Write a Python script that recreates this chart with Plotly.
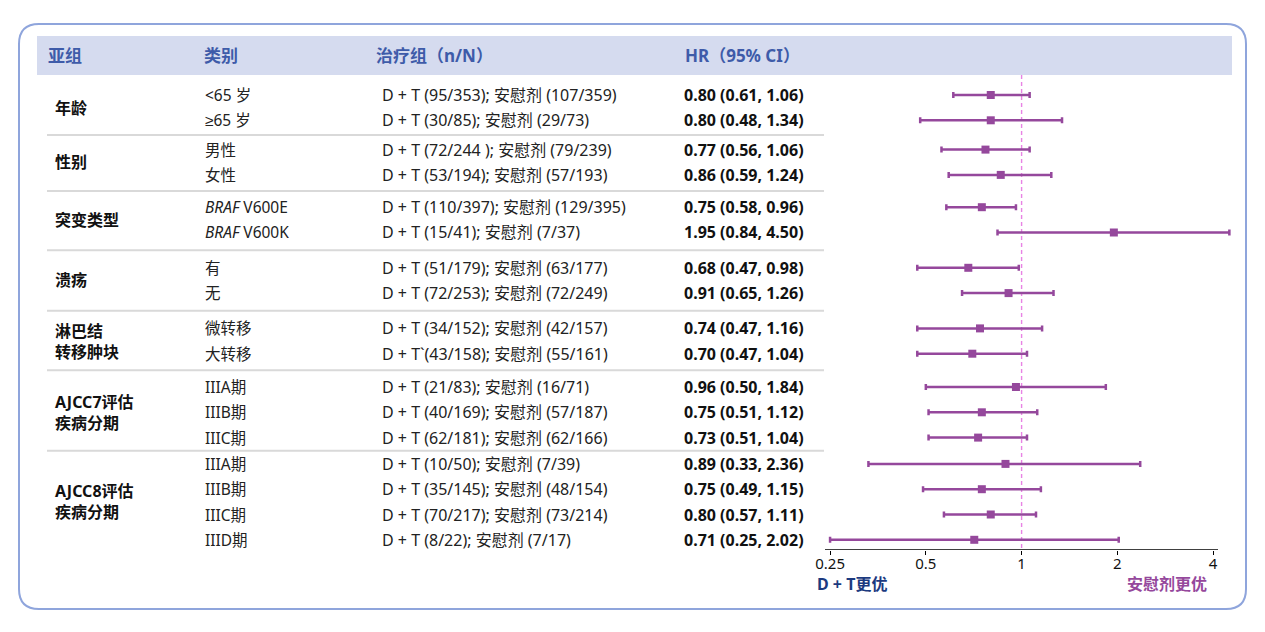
import plotly.graph_objects as go

W, H = 1265, 632

# ---------------- data ----------------
headers = ["亚组", "类别", "治疗组（n/N）", "HR（95% CI）"]
groups = ["年龄", "性别", "突变类型", "溃疡", "淋巴结<br>转移肿块",
          "AJCC7评估<br>疾病分期", "AJCC8评估<br>疾病分期"]
group_sizes = [2, 2, 2, 2, 2, 3, 4]
categories = ["&lt;65 岁", "≥65 岁", "男性", "女性",
              "<i>BRAF</i> V600E", "<i>BRAF</i> V600K", "有", "无",
              "微转移", "大转移", "IIIA期", "IIIB期", "IIIC期",
              "IIIA期", "IIIB期", "IIIC期", "IIID期"]
treatment = [
    "D + T (95/353); 安慰剂 (107/359)",
    "D + T (30/85); 安慰剂 (29/73)",
    "D + T (72/244 ); 安慰剂 (79/239)",
    "D + T (53/194); 安慰剂 (57/193)",
    "D + T (110/397); 安慰剂 (129/395)",
    "D + T (15/41); 安慰剂 (7/37)",
    "D + T (51/179); 安慰剂 (63/177)",
    "D + T (72/253); 安慰剂 (72/249)",
    "D + T (34/152); 安慰剂 (42/157)",
    "D + T`(43/158); 安慰剂 (55/161)",
    "D + T (21/83); 安慰剂 (16/71)",
    "D + T (40/169); 安慰剂 (57/187)",
    "D + T (62/181); 安慰剂 (62/166)",
    "D + T (10/50); 安慰剂 (7/39)",
    "D + T (35/145); 安慰剂 (48/154)",
    "D + T (70/217); 安慰剂 (73/214)",
    "D + T (8/22); 安慰剂 (7/17)",
]
hr = [0.80, 0.80, 0.77, 0.86, 0.75, 1.95, 0.68, 0.91, 0.74, 0.70,
      0.96, 0.75, 0.73, 0.89, 0.75, 0.80, 0.71]
ci_low = [0.61, 0.48, 0.56, 0.59, 0.58, 0.84, 0.47, 0.65, 0.47, 0.47,
          0.50, 0.51, 0.51, 0.33, 0.49, 0.57, 0.25]
ci_high = [1.06, 1.34, 1.06, 1.24, 0.96, 4.50, 0.98, 1.26, 1.16, 1.04,
           1.84, 1.12, 1.04, 2.36, 1.15, 1.11, 2.02]
tick_vals = [0.25, 0.5, 1, 2, 4]
tick_text = ["0.25", "0.5", "1", "2", "4"]
favours = ["D + T更优", "安慰剂更优"]

# ---------------- style / layout constants ----------------
FONT = "Noto Sans, Liberation Sans, Noto Sans CJK SC, sans-serif"
HEADER_BG = "#D5DBEF"
HEADER_TXT = "#3E5BA9"
PURPLE = "#95489C"
NAVY = "#1C3A80"
BORDER = "#8FA5DC"
SEP = "#D9D9D9"
REF = "#E883E4"

ROW0 = 95.0
ROW_STEP = 25.3
GROUP_GAP = [4, 7, 10, 10, 8, 1]
PLOT_TOP, PLOT_BOT = 75, 550
AX_LEFT_PX, AX_RIGHT_PX, DOMAIN_RIGHT_PX = 825, 1218, 1242
PX_PER_DECADE = 318.1
X_LEFT_LOG = -0.618


def px(x):
    return x / W


def py(y):
    return 1 - y / H


# row positions (in pixel units of the y axis)
row_y = []
cur = ROW0
for g, n in enumerate(group_sizes):
    for k in range(n):
        row_y.append(cur)
        cur += ROW_STEP
    if g < len(GROUP_GAP):
        cur += GROUP_GAP[g]

starts = []
s = 0
for n in group_sizes:
    starts.append(s)
    s += n
group_y = [sum(row_y[st:st + n]) / n for st, n in zip(starts, group_sizes)]
sep_y = [(row_y[st + n - 1] + row_y[st + n]) / 2
         for st, n in zip(starts[:-1], group_sizes[:-1])]

hr_labels = [f"{h:.2f} ({l:.2f}, {u:.2f})" for h, l, u in zip(hr, ci_low, ci_high)]

fig = go.Figure()

# reference line at HR = 1
fig.add_trace(go.Scatter(
    x=[1, 1], y=[PLOT_TOP, PLOT_BOT], mode="lines",
    line=dict(color=REF, width=1.4, dash="4px,3px"),
    hoverinfo="skip", showlegend=False))

fig.add_trace(go.Scatter(
    x=hr, y=row_y, mode="markers",
    marker=dict(symbol="square", size=8, color=PURPLE),
    error_x=dict(type="data", symmetric=False,
                 array=[u - h for h, u in zip(hr, ci_high)],
                 arrayminus=[h - l for h, l in zip(hr, ci_low)],
                 color=PURPLE, thickness=2.5, width=3),
    cliponaxis=False, showlegend=False))

annotations = []
# headers
for txt, x in zip(headers, [47, 203, 375, 684]):
    annotations.append(dict(x=px(x - 1), y=py(55.5), xref="paper", yref="paper",
                            text=f"<b>{txt}</b>", showarrow=False,
                            xanchor="left", yanchor="middle",
                            font=dict(family=FONT, size=17, color=HEADER_TXT)))
# group labels
for txt, y in zip(groups, group_y):
    annotations.append(dict(x=px(53), y=y, xref="paper", yref="y",
                            text=f"<b>{txt}</b>", showarrow=False,
                            xanchor="left", yanchor="middle", align="left",
                            font=dict(family=FONT, size=16, color="#111111")))
for i, y in enumerate(row_y):
    annotations.append(dict(x=px(203), y=y, xref="paper", yref="y",
                            text=categories[i], showarrow=False,
                            xanchor="left", yanchor="middle",
                            font=dict(family=FONT, size=15.5, color="#222222")))
    annotations.append(dict(x=px(380), y=y, xref="paper", yref="y",
                            text=treatment[i], showarrow=False,
                            xanchor="left", yanchor="middle",
                            font=dict(family=FONT, size=16, color="#222222")))
    annotations.append(dict(x=px(682), y=y, xref="paper", yref="y",
                            text=f"<b>{hr_labels[i]}</b>", showarrow=False,
                            xanchor="left", yanchor="middle",
                            font=dict(family=FONT, size=16, color="#111111")))
# favours labels
annotations.append(dict(x=px(815), y=py(584), xref="paper", yref="paper",
                        text=f"<b>{favours[0]}</b>", showarrow=False,
                        xanchor="left", yanchor="middle",
                        font=dict(family=FONT, size=16, color=NAVY)))
annotations.append(dict(x=px(1209), y=py(584), xref="paper", yref="paper",
                        text=f"<b>{favours[1]}</b>", showarrow=False,
                        xanchor="right", yanchor="middle",
                        font=dict(family=FONT, size=16, color=PURPLE)))

shapes = []
# header band
shapes.append(dict(type="rect", xref="paper", yref="paper",
                   x0=px(37), x1=px(1232), y0=py(75), y1=py(36),
                   fillcolor=HEADER_BG, line=dict(width=0), layer="below"))
# separators
for y in sep_y:
    shapes.append(dict(type="line", xref="paper", yref="y",
                       x0=px(47), x1=px(824), y0=y, y1=y,
                       line=dict(color=SEP, width=2)))
# x axis baseline
shapes.append(dict(type="line", xref="paper", yref="y",
                   x0=px(AX_LEFT_PX), x1=px(AX_RIGHT_PX), y0=PLOT_BOT, y1=PLOT_BOT,
                   line=dict(color="black", width=1.5)))
# rounded outer border
x0, x1, yt, yb = px(19), px(1246), py(24), py(609)
rx, ry = 20 / W, 20 / H
path = (f"M {x0+rx},{yt} L {x1-rx},{yt} Q {x1},{yt} {x1},{yt-ry} "
        f"L {x1},{yb+ry} Q {x1},{yb} {x1-rx},{yb} "
        f"L {x0+rx},{yb} Q {x0},{yb} {x0},{yb+ry} "
        f"L {x0},{yt-ry} Q {x0},{yt} {x0+rx},{yt} Z")
shapes.append(dict(type="path", xref="paper", yref="paper", path=path,
                   line=dict(color=BORDER, width=2)))

x_right_log = X_LEFT_LOG + (DOMAIN_RIGHT_PX - AX_LEFT_PX) / PX_PER_DECADE

fig.update_layout(
    width=W, height=H,
    margin=dict(l=0, r=0, t=0, b=0, autoexpand=False),
    paper_bgcolor="white", plot_bgcolor="rgba(0,0,0,0)",
    showlegend=False,
    annotations=annotations,
    shapes=shapes,
    xaxis=dict(type="log", range=[X_LEFT_LOG, x_right_log],
               domain=[px(AX_LEFT_PX), px(DOMAIN_RIGHT_PX)],
               tickvals=tick_vals, ticktext=tick_text,
               showline=False,
               ticks="outside", ticklen=4, tickwidth=1.3, tickcolor="black",
               ticklabelstandoff=-4,
               showgrid=False, zeroline=False, automargin=False,
               tickfont=dict(family=FONT, size=15, color="#111111"),
               anchor="y"),
    yaxis=dict(range=[PLOT_BOT, PLOT_TOP], domain=[py(PLOT_BOT), py(PLOT_TOP)],
               visible=False, showgrid=False, zeroline=False, automargin=False),
)

fig.write_html("out.html")
